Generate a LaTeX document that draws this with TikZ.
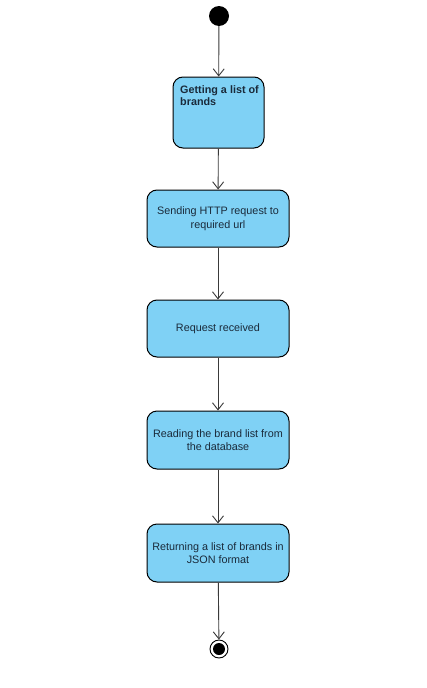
\documentclass[tikz,border=0pt]{standalone}
\usepackage{fontspec}
\setmainfont{Liberation Sans}
\usetikzlibrary{arrows.meta}
\definecolor{boxfill}{HTML}{7FD1F5}
\definecolor{linegray}{HTML}{3A3A3A}
\definecolor{txt}{HTML}{1A2A3A}
\begin{document}
\begin{tikzpicture}[x=1pt,y=-1pt,
  act/.style={draw=black, line width=1pt, fill=boxfill, rounded corners=10pt, minimum width=142pt, inner sep=0pt, align=center, font=\fontsize{10.8}{13.5}\selectfont, text=txt},
  flow/.style={draw=linegray, line width=0.9pt, -{Straight Barb[length=7pt,width=11pt,line width=0.9pt]}}]
\useasboundingbox (0,0) rectangle (426,688);
\fill[white] (0,0) rectangle (426,688);
\node[circle, fill=black, minimum size=20pt, inner sep=0pt] (start) at (219,16) {};
\node[act, minimum width=91pt, minimum height=71pt] (a1) at (218.5,112.5) {};
\node[anchor=north west, inner sep=0pt, align=left, font=\bfseries\fontsize{10.8}{12.8}\selectfont, text=txt] (t1) at (180,85) {Getting a list of\\brands};
\node[act, minimum height=57pt] (a2) at (218,218.5) {Sending HTTP request to\\required url};
\node[act, minimum height=57pt] (a3) at (218,328.5) {Request received};
\node[act, minimum height=58pt] (a4) at (218,440) {Reading the brand list from\\the database};
\node[act, minimum height=58pt] (a5) at (218,553) {Returning a list of brands in\\JSON format};
\node[circle, draw=black, line width=0.9pt, fill=white, minimum size=18pt, inner sep=0pt] (end) at (219,649) {};
\fill[black] (end.center) circle (6pt);
\draw[flow] (start) -- (a1);
\draw[flow] (a1) -- (a2);
\draw[flow] (a2) -- (a3);
\draw[flow] (a3) -- (a4);
\draw[flow] (a4) -- (a5);
\draw[flow] (a5) -- (end);
\end{tikzpicture}
\end{document}
